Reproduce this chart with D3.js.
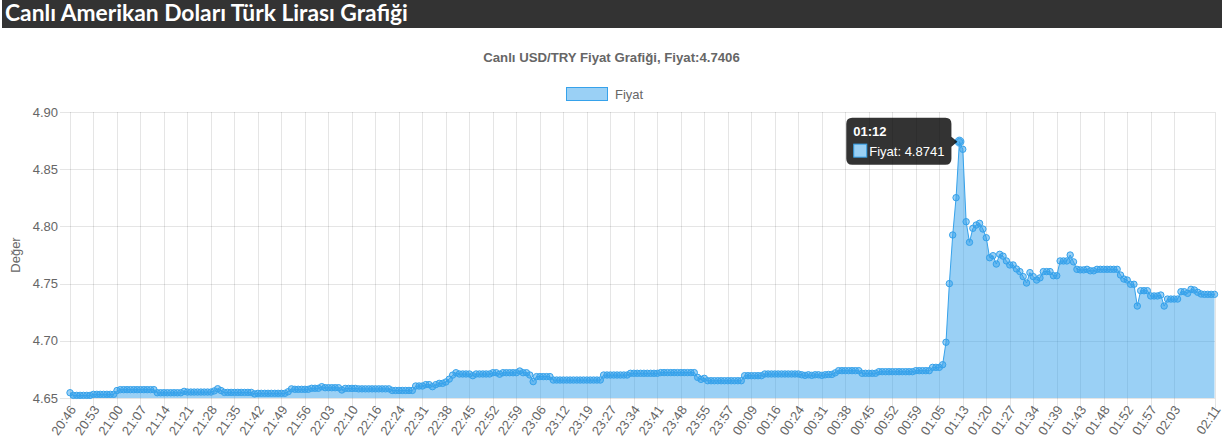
<!DOCTYPE html>
<html><head><meta charset="utf-8">
<script src="https://cdn.jsdelivr.net/npm/d3@7"></script>
<style>html,body{margin:0;padding:0;background:#fff;} svg{display:block;}</style>
</head><body>
<svg id="c" width="1226" height="446"></svg>
<script>
const headerTitle = "Canlı Amerikan Doları Türk Lirası Grafiği";
const chartTitle = "Canlı USD/TRY Fiyat Grafiği, Fiyat:4.7406";
const seriesName = "Fiyat";
const yAxisTitle = "Değer";

// one value per minute-ish sample (342 points)
const values = [
4.6546,4.6523,4.6523,4.6523,4.6523,4.6523,4.6523,4.6532,4.6532,4.6532,
4.6532,4.6532,4.6532,4.6532,4.6565,4.6573,4.6573,4.6573,4.6573,4.6573,
4.6573,4.6573,4.6573,4.6573,4.6573,4.6573,4.6546,4.6546,4.6546,4.6546,
4.6546,4.6546,4.6546,4.6546,4.6558,4.6552,4.6552,4.6552,4.6552,4.6552,
4.6552,4.6552,4.6552,4.6562,4.6581,4.6565,4.6549,4.6549,4.6549,4.6549,
4.6549,4.6549,4.6549,4.6549,4.6549,4.6536,4.6541,4.6541,4.6541,4.6541,
4.6541,4.6541,4.6541,4.6541,4.6541,4.6555,4.6580,4.6576,4.6576,4.6576,
4.6576,4.6576,4.6585,4.6585,4.6585,4.6599,4.6590,4.6590,4.6590,4.6590,
4.6590,4.6570,4.6584,4.6584,4.6584,4.6584,4.6580,4.6580,4.6580,4.6580,
4.6580,4.6580,4.6580,4.6580,4.6580,4.6580,4.6566,4.6566,4.6566,4.6566,
4.6566,4.6566,4.6566,4.6605,4.6605,4.6605,4.6617,4.6617,4.6599,4.6617,
4.6628,4.6628,4.6640,4.6665,4.6700,4.6721,4.6710,4.6710,4.6710,4.6710,
4.6695,4.6710,4.6710,4.6710,4.6710,4.6710,4.6721,4.6721,4.6708,4.6721,
4.6721,4.6721,4.6721,4.6721,4.6736,4.6721,4.6721,4.6701,4.6643,4.6687,
4.6687,4.6687,4.6687,4.6687,4.6657,4.6657,4.6657,4.6657,4.6657,4.6657,
4.6657,4.6657,4.6657,4.6657,4.6657,4.6657,4.6657,4.6657,4.6657,4.6701,
4.6701,4.6701,4.6701,4.6701,4.6701,4.6701,4.6701,4.6716,4.6716,4.6716,
4.6716,4.6716,4.6716,4.6716,4.6716,4.6716,4.6722,4.6722,4.6722,4.6722,
4.6722,4.6722,4.6722,4.6722,4.6722,4.6722,4.6722,4.6680,4.6663,4.6672,
4.6651,4.6651,4.6651,4.6651,4.6651,4.6651,4.6651,4.6651,4.6651,4.6651,
4.6651,4.6695,4.6695,4.6695,4.6695,4.6695,4.6695,4.6710,4.6710,4.6710,
4.6710,4.6710,4.6710,4.6710,4.6710,4.6710,4.6710,4.6710,4.6703,4.6698,
4.6703,4.6698,4.6703,4.6703,4.6698,4.6703,4.6706,4.6706,4.6720,4.6739,
4.6739,4.6739,4.6739,4.6739,4.6739,4.6739,4.6716,4.6716,4.6716,4.6716,
4.6716,4.6730,4.6730,4.6730,4.6730,4.6730,4.6730,4.6730,4.6730,4.6730,
4.6730,4.6730,4.6739,4.6739,4.6739,4.6739,4.6739,4.6768,4.6768,4.6768,
4.6791,4.6987,4.7500,4.7925,4.8251,4.8741,4.8674,4.8041,4.7861,4.7983,
4.8012,4.8027,4.7977,4.7901,4.7726,4.7744,4.7671,4.7756,4.7740,4.7698,
4.7663,4.7663,4.7628,4.7605,4.7561,4.7505,4.7596,4.7561,4.7531,4.7550,
4.7605,4.7605,4.7605,4.7569,4.7569,4.7698,4.7698,4.7698,4.7750,4.7690,
4.7625,4.7620,4.7620,4.7625,4.7612,4.7612,4.7625,4.7625,4.7625,4.7625,
4.7625,4.7625,4.7625,4.7575,4.7540,4.7531,4.7494,4.7494,4.7304,4.7438,
4.7438,4.7438,4.7392,4.7392,4.7392,4.7400,4.7304,4.7365,4.7365,4.7365,
4.7365,4.7429,4.7429,4.7415,4.7450,4.7444,4.7424,4.7409,4.7406,4.7406,
4.7406,4.7406
];

const tickLabels = ["20:46","20:53","21:00","21:07","21:14","21:21","21:28","21:35","21:42","21:49",
"21:56","22:03","22:10","22:16","22:24","22:31","22:38","22:45","22:52","22:59",
"23:06","23:12","23:19","23:27","23:34","23:41","23:48","23:55","23:57","00:09",
"00:16","00:24","00:31","00:38","00:45","00:52","00:59","01:05","01:13","01:20",
"01:27","01:34","01:39","01:43","01:48","01:52","01:57","02:03","02:11"];
const tickIndex = [0,7,14,21,28,35,42,49,56,63,
70,77,84,91,98,105,112,119,126,133,
140,147,154,161,168,175,182,189,196,203,
210,217,224,231,238,245,252,259,266,273,
280,287,294,301,308,315,322,329,341];
const yTicks = [4.65,4.70,4.75,4.80,4.85,4.90];
const yTickLabels = ["4.65","4.70","4.75","4.80","4.85","4.90"];

const tooltipIndex = 265;
const tooltipTitle = "01:12";

const svg = d3.select("#c");
const FONT = "'Liberation Sans', Arial, Helvetica, sans-serif";
const FS = 13;

// header bar
svg.append("rect").attr("x",2).attr("y",0).attr("width",1220).attr("height",28).attr("fill","#333333");
const ht = svg.append("text").attr("x",5).attr("y",21)
  .attr("fill","#fff").attr("font-family","Lato, 'Open Sans', sans-serif")
  .attr("font-weight","bold").attr("font-size",20).text(headerTitle);
const hw = ht.node().getComputedTextLength();
if (hw > 0) ht.attr("font-size", (20*403/hw).toFixed(2));

const x = d3.scaleLinear().domain([0, values.length-1]).range([70, 1214.5]);
const y = d3.scaleLinear().domain([4.65, 4.90]).range([398, 112]);
const px = v => Math.round(v) + 0.5;

// chart title
svg.append("text").attr("x",611.5).attr("y",57).attr("text-anchor","middle")
  .attr("dominant-baseline","central").attr("font-family",FONT).attr("font-weight","bold")
  .attr("font-size",13.2).attr("fill","#666").text(chartTitle);

// legend
svg.append("rect").attr("x",566.5).attr("y",87.5).attr("width",41).attr("height",13)
  .attr("fill","rgba(54,162,235,0.5)").attr("stroke","rgb(54,162,235)").attr("stroke-width",1);
svg.append("text").attr("x",615).attr("y",94.5).attr("dominant-baseline","central")
  .attr("font-family",FONT).attr("font-size",FS).attr("fill","#666").text(seriesName);

// grid
const grid = svg.append("g").attr("stroke","rgba(0,0,0,0.1)").attr("stroke-width",1);
yTicks.forEach(t => {
  grid.append("line").attr("x1",60).attr("x2",x.range()[1]+0.5).attr("y1",px(y(t))).attr("y2",px(y(t)));
});
tickIndex.forEach(i => {
  grid.append("line").attr("x1",px(x(i))).attr("x2",px(x(i))).attr("y1",y(4.90)).attr("y2",408);
});

// y tick labels
yTicks.forEach((t,k) => {
  svg.append("text").attr("x",58).attr("y",y(t)).attr("text-anchor","end")
    .attr("dominant-baseline","central").attr("font-family",FONT).attr("font-size",FS)
    .attr("fill","#666").text(yTickLabels[k]);
});
// y axis title
svg.append("text").attr("transform","translate(15,255) rotate(-90)").attr("text-anchor","middle")
  .attr("dominant-baseline","central").attr("font-family",FONT).attr("font-size",FS)
  .attr("fill","#666").text(yAxisTitle);

// x tick labels rotated
tickIndex.forEach((i,k) => {
  svg.append("text").attr("transform",`translate(${x(i)+3},${407}) rotate(-55)`)
    .attr("text-anchor","end").attr("dominant-baseline","central")
    .attr("font-family",FONT).attr("font-size",FS).attr("fill","#666").text(tickLabels[k]);
});

// area + line
const idx = d3.range(values.length);
const area = d3.area().x(i => x(i)).y0(y(4.65)).y1(i => y(values[i]));
svg.append("path").datum(idx).attr("d",area).attr("fill","rgba(54,162,235,0.5)");
const line = d3.line().x(i => x(i)).y(i => y(values[i]));
svg.append("path").datum(idx).attr("d",line).attr("fill","none")
  .attr("stroke","rgb(54,162,235)").attr("stroke-width",1);

// points
svg.append("g").selectAll("circle").data(idx).join("circle")
  .attr("cx",i => x(i)).attr("cy",i => y(values[i])).attr("r",3.2)
  .attr("fill","rgba(54,162,235,0.5)").attr("stroke","rgb(54,162,235)").attr("stroke-width",1);

// hover point
const hx = x(tooltipIndex), hy = y(values[tooltipIndex]);
svg.append("circle").attr("cx",hx).attr("cy",hy).attr("r",4.5)
  .attr("fill","rgba(54,162,235,0.6)").attr("stroke","rgb(54,162,235)").attr("stroke-width",1);

// tooltip
const tg = svg.append("g");
const bodyText = seriesName + ": " + values[tooltipIndex].toFixed(4);
const tTitle = tg.append("text").attr("font-family",FONT).attr("font-weight","bold").attr("font-size",13)
  .attr("fill","#fff").text(tooltipTitle);
const tBody = tg.append("text").attr("font-family",FONT).attr("font-size",13)
  .attr("fill","#fff").text(bodyText);
const tw = Math.max(tTitle.node().getComputedTextLength(), 16 + tBody.node().getComputedTextLength());
const bw = tw + 14, bh = 47;
const bRight = hx - 8, bLeft = bRight - bw, bTop = hy - bh/2 - 0.5;
const r = 6;
const path = d3.path();
path.moveTo(bLeft + r, bTop);
path.lineTo(bRight - r, bTop);
path.quadraticCurveTo(bRight, bTop, bRight, bTop + r);
path.lineTo(bRight, hy - 5);
path.lineTo(bRight + 6, hy);
path.lineTo(bRight, hy + 5);
path.lineTo(bRight, bTop + bh - r);
path.quadraticCurveTo(bRight, bTop + bh, bRight - r, bTop + bh);
path.lineTo(bLeft + r, bTop + bh);
path.quadraticCurveTo(bLeft, bTop + bh, bLeft, bTop + bh - r);
path.lineTo(bLeft, bTop + r);
path.quadraticCurveTo(bLeft, bTop, bLeft + r, bTop);
path.closePath();
tg.insert("path", ":first-child").attr("d", path.toString()).attr("fill","rgba(0,0,0,0.8)");
tTitle.attr("x", bLeft + 7).attr("y", bTop + 18);
tg.append("rect").attr("x", bLeft + 7.5).attr("y", bTop + 26.5).attr("width",13).attr("height",13)
  .attr("fill","rgb(154,208,245)").attr("stroke","rgb(54,162,235)").attr("stroke-width",1);
tBody.attr("x", bLeft + 23).attr("y", bTop + 38);
</script>
</body></html>
